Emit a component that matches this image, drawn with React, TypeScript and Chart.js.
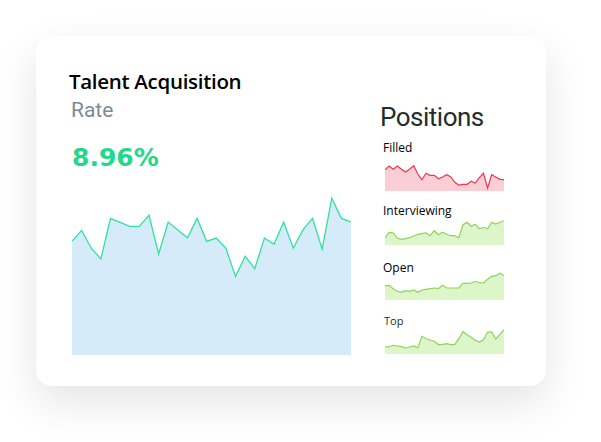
import React, { useEffect, useRef } from "react";
import { Chart, registerables } from "chart.js";

Chart.register(...registerables);

const days = ["1","2","3","4","5","6","7","8","9","10","11","12","13","14","15","16","17","18","19","20","21","22","23","24","25","26","27","28","29","30"];

const rateValues = [6.9, 7.56, 6.47, 5.82, 8.28, 8.04, 7.8, 7.8, 8.48, 6.12, 8.06, 7.58, 7.11, 8.28, 6.89, 7.09, 6.47, 4.75, 5.98, 5.23, 7.09, 6.71, 8.06, 6.47, 7.58, 8.28, 6.42, 9.5, 8.28, 8.06];

const filledValues = [21.3, 25, 21.7, 25, 21.7, 19, 22, 25.3, 17, 11.3, 17.7, 15.7, 15.7, 12.3, 14, 16.3, 14.3, 8.7, 6, 6.7, 6.7, 9.7, 8, 13.3, 17.7, 3, 16.3, 14, 11.7, 11.3];
const interviewingValues = [7.3, 12.7, 12.3, 6.7, 5.7, 6.3, 7.3, 9, 10.7, 11.3, 12, 9.3, 14.3, 10.3, 12.7, 10.7, 9.3, 9.3, 7.3, 20.3, 22.7, 18.7, 20.7, 16.3, 17.7, 16.3, 22.7, 21, 22.7, 24.3];
const openValues = [14.3, 14.7, 11.3, 8.7, 7.7, 9.3, 8.7, 10, 7.7, 10, 10.7, 11.3, 12, 11.3, 14.7, 12, 12, 12, 12, 16.7, 16.7, 17, 18.7, 17.3, 17, 20.7, 23.7, 24.3, 26.7, 24.7];
const topValues = [7, 7.3, 8.7, 8, 7.3, 6, 7, 8, 6.3, 17.7, 15.3, 14, 12.7, 9.3, 9.7, 10.3, 9.3, 9.3, 15.3, 22.3, 19.3, 16.7, 13.7, 12, 14.3, 21.7, 22, 15, 19.7, 24.3];

const rateLabel = "8.96%";

type LineProps = {
  values: number[];
  max: number;
  line: string;
  fill: string;
  width: number;
  height: number;
  left: number;
  top: number;
  lineWidth: number;
};

function AreaLine({ values, max, line, fill, width, height, left, top, lineWidth }: LineProps) {
  const ref = useRef<HTMLCanvasElement | null>(null);
  useEffect(() => {
    if (!ref.current) return;
    const chart = new Chart(ref.current, {
      type: "line",
      data: {
        labels: days,
        datasets: [
          {
            data: values,
            borderColor: line,
            backgroundColor: fill,
            borderWidth: lineWidth,
            fill: "origin",
            pointRadius: 0,
            tension: 0,
          },
        ],
      },
      options: {
        animation: false,
        responsive: false,
        maintainAspectRatio: false,
        layout: { padding: 0 },
        plugins: { legend: { display: false }, tooltip: { enabled: false } },
        scales: {
          x: { display: false },
          y: { display: false, min: 0, max },
        },
      },
    });
    return () => chart.destroy();
  }, []);
  return (
    <canvas
      ref={ref}
      width={width}
      height={height}
      style={{ position: "absolute", left, top, width, height }}
    />
  );
}

const abs = (left: number, top: number): React.CSSProperties => ({
  position: "absolute",
  left,
  top,
  margin: 0,
  lineHeight: 1,
  whiteSpace: "nowrap",
});

export default function App() {
  const green = "#8fd35b";
  const greenFill = "#dcf5c9";
  return (
    <div style={{ position: "fixed", left: 0, top: 0, width: 601, height: 442, background: "#ffffff", overflow: "hidden" }}>
      <div
        style={{
          position: "absolute",
          left: 36,
          top: 36,
          width: 510,
          height: 350,
          borderRadius: 16,
          background: "#ffffff",
          boxShadow: "0 16px 44px rgba(0,0,0,0.11)",
        }}
      />
      <div style={{ ...abs(69, 71), fontFamily: "'Open Sans'", fontSize: 20.5, fontWeight: 600, letterSpacing: -0.3, color: "#000" }}>
        Talent Acquisition
      </div>
      <div style={{ ...abs(71, 100), fontFamily: "Roboto", fontSize: 21, color: "#7d8b92" }}>Rate</div>
      <div style={{ ...abs(72, 145), fontFamily: "'DejaVu Sans'", fontSize: 25, fontWeight: 700, color: "#22d98b" }}>
        {rateLabel}
      </div>
      <div style={{ ...abs(380, 104), fontFamily: "Roboto", fontSize: 26, letterSpacing: -0.5, color: "#1f2d2b" }}>
        Positions
      </div>
      <div style={{ ...abs(383, 142), fontFamily: "'Open Sans'", fontSize: 12, color: "#000" }}>Filled</div>
      <div style={{ ...abs(383, 205), fontFamily: "'Open Sans'", fontSize: 12, color: "#000" }}>Interviewing</div>
      <div style={{ ...abs(383, 262), fontFamily: "'Open Sans'", fontSize: 12, color: "#000" }}>Open</div>
      <div style={{ ...abs(384, 315), fontFamily: "'Open Sans'", fontSize: 11, color: "#1f2d2b" }}>Top</div>

      <AreaLine values={rateValues} max={10} line="#2ee39b" fill="#d6ebf9" width={279} height={165} left={72} top={190} lineWidth={1.3} />
      <AreaLine values={filledValues} max={30} line="#f2364f" fill="#f9ced4" width={119} height={30} left={385} top={161} lineWidth={1.2} />
      <AreaLine values={interviewingValues} max={30} line={green} fill={greenFill} width={119} height={30} left={385} top={215} lineWidth={1.2} />
      <AreaLine values={openValues} max={30} line={green} fill={greenFill} width={119} height={30} left={385} top={270} lineWidth={1.2} />
      <AreaLine values={topValues} max={30} line={green} fill={greenFill} width={119} height={30} left={385} top={324} lineWidth={1.2} />
    </div>
  );
}
